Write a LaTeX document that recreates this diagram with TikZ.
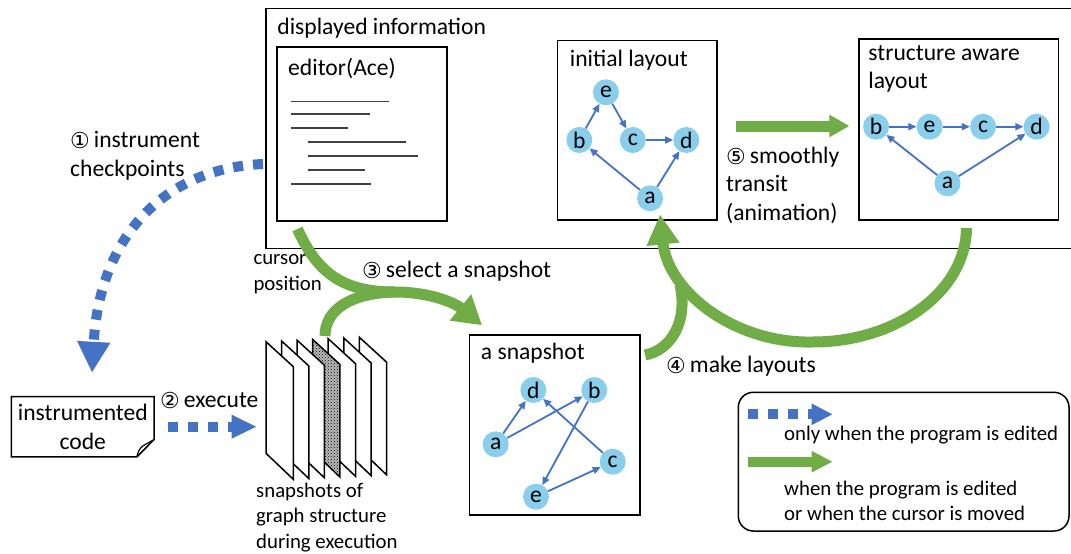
\documentclass[tikz,border=0pt]{standalone}
\usepackage{fontspec}
\setmainfont{Carlito}
\newfontfamily\numfont{DejaVu Sans}
\usetikzlibrary{arrows.meta,positioning,patterns}
\definecolor{flowblue}{RGB}{68,114,196}
\definecolor{flowgreen}{RGB}{112,173,71}
\definecolor{vtxfill}{RGB}{137,206,235}
\newcommand{\bigtxt}{\fontsize{23.6}{28.5}\selectfont}
\newcommand{\smalltxt}{\fontsize{20.8}{25.6}\selectfont}
\newcommand{\stepno}[1]{\raisebox{-1pt}{\numfont\fontsize{22}{22}\selectfont #1}\hspace{4pt}}
\tikzset{
  box/.style={draw, line width=1.5pt, inner sep=0pt},
  lbl/.style={anchor=west, inner sep=0pt, align=left, font=\bigtxt},
  note/.style={anchor=west, inner sep=0pt, align=left, font=\smalltxt},
  vtx/.style={circle, fill=vtxfill, minimum size=26pt, inner sep=0pt, font=\bigtxt},
  link/.style={draw=flowblue, line width=1.8pt, -{Triangle[length=8pt,width=7pt]}},
  always/.style={draw=flowgreen, line width=11pt},
  onedit/.style={draw=flowblue, line width=10pt, dash pattern=on 10pt off 10pt},
  sheet/.style={draw, line width=1.5pt, fill=white},
  hatch/.style={draw, line width=1.5pt, preaction={fill=gray!55}, pattern=crosshatch dots},
  codeline/.style={draw=black!75, line width=1.2pt}
}

\begin{document}
\begin{tikzpicture}[x=1pt, y=-1pt]
    \useasboundingbox (0,0) rectangle (1071,554);
    % Displayed information
    \draw[line width=1.5pt] (1071,8.3) -- (265.8,8.3) -- (265.8,248.3) -- (1071,248.3);
    \node[lbl] (disp) at (277.2,28.3) {displayed information};
    \node[box, minimum width=169.8, minimum height=174] (editor) at (362.1,134) {};
    \node[lbl] (edlbl) at (288,68.3) {editor(Ace)};
    \foreach \xa/\xb/\y in {290.7/389/101.7, 290.7/370/114, 290.7/348/128, 307.7/406/142, 307.7/418/156, 307.7/365/170, 291/371/184}
      \draw[codeline] (\xa,\y) -- (\xb,\y);
    \node[box, minimum width=159.4, minimum height=179.3] (init) at (637.3,130.35) {};
    \node[lbl] (inlbl) at (569.7,60) {initial layout};
    \node[box, minimum width=199.8, minimum height=181] (sawr) at (958.7,129.5) {};
    \node[lbl] (salbl) at (868.2,69) {structure aware\\layout};
    \node[lbl] (s5) at (726,185) {\stepno{⑤}smoothly\\transit\\(animation)};
    % Initial layout graph
    \node[vtx] (i-e) at (605.9,92.3) {e};
    \node[vtx] (i-b) at (579.3,140) {b};
    \node[vtx] (i-c) at (632.8,140) {c};
    \node[vtx] (i-d) at (686.3,140) {d};
    \node[vtx] (i-a) at (650.1,198.3) {a};
    \draw[link] (i-b) -- (i-e);
    \draw[link] (i-e) -- (i-c);
    \draw[link] (i-c) -- (i-d);
    \draw[link] (i-a) -- (i-b);
    \draw[link] (i-a) -- (i-d);
    % Structure aware graph
    \node[vtx] (s-b) at (876.1,126.7) {b};
    \node[vtx] (s-e) at (929.6,126.7) {e};
    \node[vtx] (s-c) at (983.1,126.7) {c};
    \node[vtx] (s-d) at (1036.6,126.7) {d};
    \node[vtx] (s-a) at (947.5,183.3) {a};
    \draw[link] (s-b) -- (s-e);
    \draw[link] (s-e) -- (s-c);
    \draw[link] (s-c) -- (s-d);
    \draw[link] (s-a) -- (s-b);
    \draw[link] (s-a) -- (s-d);
    \draw[always, -{Triangle[length=20pt,width=21pt]}] ([xshift=18.3pt,yshift=4.35pt]init.east) -- ([xshift=-8.6pt,yshift=3.5pt]sawr.west);
    % A snapshot
    \node[box, minimum width=170.7, minimum height=180] (snap) at (554.65,425) {};
    \node[lbl] (snlbl) at (480.7,353) {a snapshot};
    \node[vtx] (p-d) at (533.3,390) {d};
    \node[vtx] (p-b) at (594.3,390) {b};
    \node[vtx] (p-a) at (495.7,444.3) {a};
    \node[vtx] (p-c) at (612.7,461.7) {c};
    \node[vtx] (p-e) at (536,496.7) {e};
    \draw[link] (p-a) -- (p-d);
    \draw[link] (p-a) -- (p-b);
    \draw[link] (p-b) -- (p-e);
    \draw[link] (p-c) -- (p-d);
    \draw[link] (p-e) -- (p-c);
    % Instrumented code
    \node[inner sep=0pt, minimum width=142.3, minimum height=60, align=center, font=\bigtxt] (code) at (82.8,426.7) {instrumented\\code};
    \draw[line width=1.5pt] (code.north west) -- (code.north east) -- ([yshift=17.4pt]code.south east) -- ([xshift=-17.3pt]code.south east) -- (code.south west) -- cycle;
    \draw[line width=1.2pt] ([xshift=-17.3pt]code.south east) .. controls +(2,-7) .. +(6,-11) -- ([yshift=17.4pt]code.south east);
    \node[lbl] (s1) at (70,156) {\stepno{①}instrument\\checkpoints};
    \node[lbl] (s2) at (160,400.7) {\stepno{②}execute};
    % Snapshots of graph structure
    \foreach \i/\s in {6/sheet,5/sheet,4/sheet,3/hatch,2/sheet,1/sheet,0/sheet}
      \draw[\s] ({266+15.55*\i},{341.7-0.75*\i}) -- ++(27.3,25) -- ++(0,112.6) -- ++(-27.3,-26) -- cycle;
    \node[note] (stack) at (256,517.5) {snapshots of\\graph structure\\during execution};
    \node[note] (cur) at (253.3,274) {cursor\\position};
    \node[lbl] (s3) at (362,271) {\stepno{③}select a snapshot};
    \node[lbl] (s4) at (666,366) {\stepno{④}make layouts};
    % Flows
    \coordinate (dispw) at (263,164);
    \coordinate (stkw) at (256.7,426.7);
    \coordinate (cursor) at (297.5,229);
    \coordinate (stktop) at (325,336);
    \coordinate (join3) at (395,292);
    \coordinate (sawb) at (966.5,228);
    \coordinate (snape) at (645,355);
    \draw[onedit, -{Triangle[length=31pt,width=31pt]}] (dispw) .. controls (170,168) and (100,230) .. ([xshift=9.2pt,yshift=23.7pt]code.north);
    \draw[onedit, -{Triangle[length=25pt,width=22pt]}] ([xshift=14pt]code.east) -- (stkw);
    \draw[always, -{Triangle[length=28pt,width=32pt]}] (cursor) .. controls (318,275) and (345,292) .. (join3) .. controls (430,292) and (455,303) .. ([xshift=-72.6pt,yshift=9pt]snap.north);
    \draw[always] (stktop) .. controls (325,310) and (350,293) .. (join3);
    \draw[always, -{Triangle[length=30pt,width=31pt]}] (sawb) .. controls (966,291) and (897,342) .. (813,342) .. controls (735,344) and (668,292) .. ([xshift=22.7pt,yshift=6.3pt]init.south);
    \draw[always] (snape) .. controls (672,350) and (688,320) .. (680,285);
    % Legend
    \node[box, rounded corners=15pt, minimum width=330.7, minimum height=138.7] (legend) at (903.65,461.65) {};
    \coordinate (k1) at (748.3,414.3);
    \coordinate (k2) at (748.3,461.7);
    \draw[onedit, -{Triangle[length=21pt,width=20pt]}] (k1) -- ++(84.4,0);
    \draw[always, line width=10pt, -{Triangle[length=21pt,width=20pt]}] (k2) -- ++(84.4,0);
    \node[note] at (784,435) {only when the program is edited};
    \node[note] at (784,500.8) {when the program is edited\\or when the cursor is moved};
\end{tikzpicture}
\end{document}
